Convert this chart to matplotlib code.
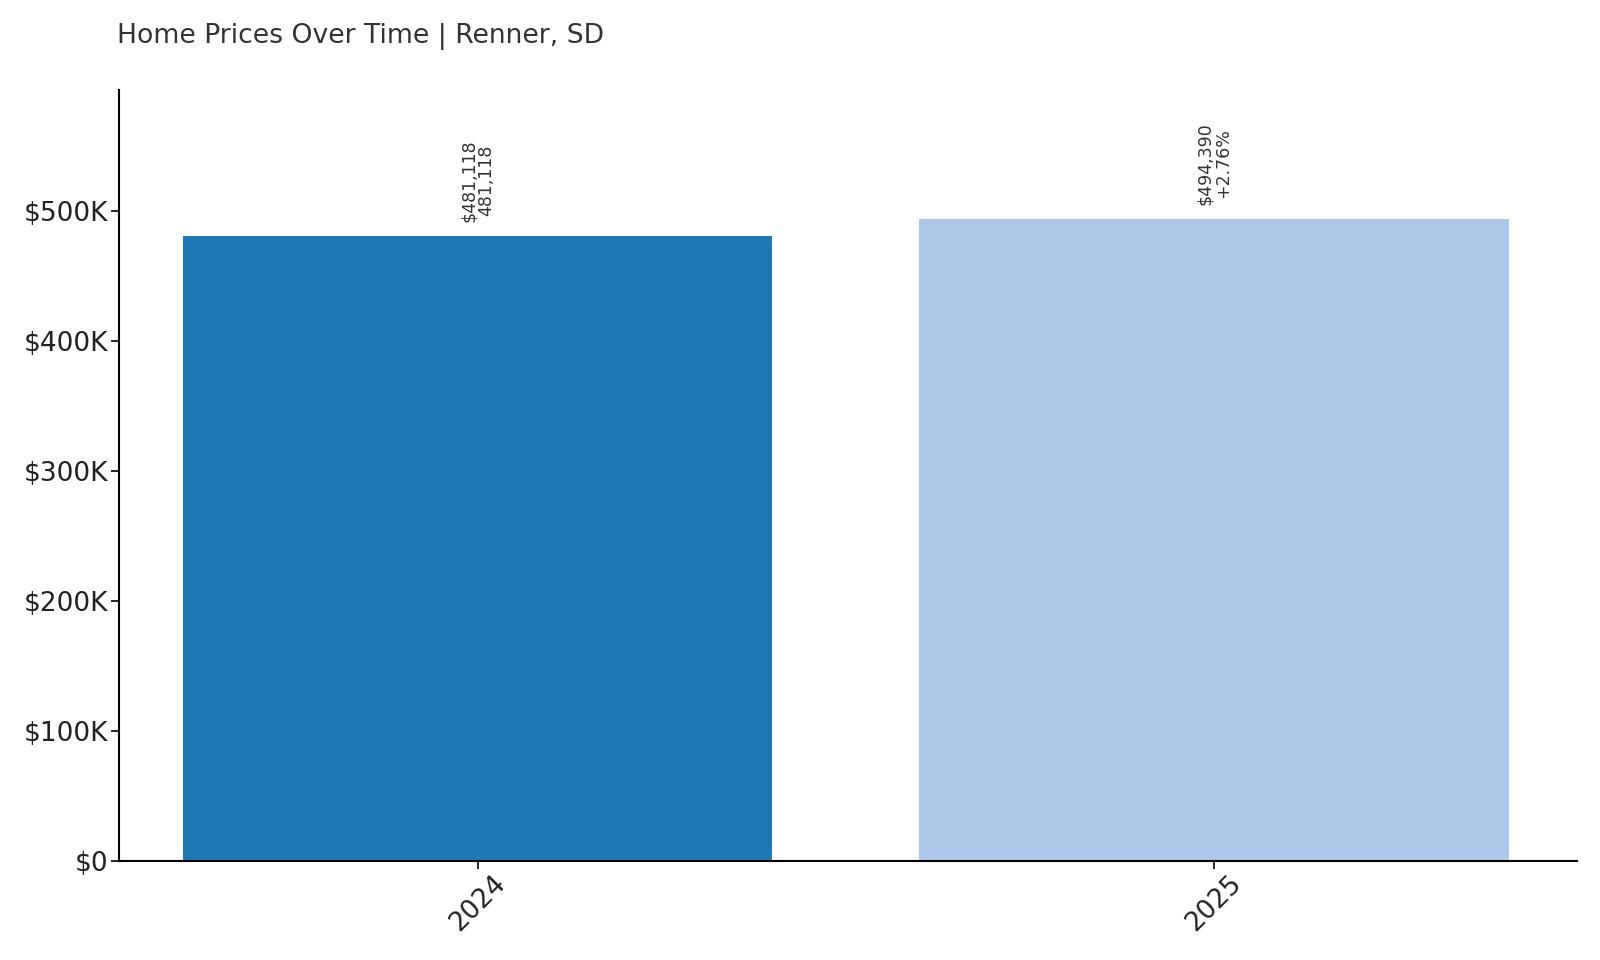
import matplotlib
matplotlib.use("Agg")
import matplotlib.pyplot as plt
from matplotlib.ticker import FuncFormatter

years = ["2024", "2025"]
values = [481118, 494390]
labels_top = ["$481,118", "$494,390"]
labels_bottom = ["481,118", "+2.76%"]
colors = ["#1f77b4", "#aec7e8"]
title = "Home Prices Over Time | Renner, SD"

fig = plt.figure(figsize=(16, 9.6), dpi=100)
ax = fig.add_axes([119/1600, 1 - 861/960, (1577-119)/1600, (861-90)/960])

x = list(range(len(years)))
bars = ax.bar(x, values, width=0.8, color=colors)
ax.set_xlim(-0.487, 1.493)
ax.set_ylim(0, max(values) * 1.2)

for xi, v, t1, t2 in zip(x, values, labels_top, labels_bottom):
    ax.annotate(f"{t1}\n{t2}", xy=(xi, v), xytext=(0, 10), textcoords="offset points",
                rotation=90, ha="center", va="bottom", multialignment="center",
                fontsize=12.5, color="#333333", linespacing=1.0)

ax.set_xticks(x)
ax.set_xticklabels(years, rotation=45, ha="center", fontsize=19, color="#222222")
ax.yaxis.set_major_formatter(FuncFormatter(lambda v, p: "$0" if v == 0 else f"${int(v/1000)}K"))
ax.set_yticks([0, 100000, 200000, 300000, 400000, 500000])
ax.tick_params(axis="y", labelsize=19, labelcolor="#222222", length=6, width=1.2, pad=1.5)
ax.tick_params(axis="x", length=6, width=1.2, pad=1)
for s in ["top", "right"]:
    ax.spines[s].set_visible(False)
for s in ["left", "bottom"]:
    ax.spines[s].set_linewidth(1.5)

fig.text(117/1600, 1 - 37/960, title, fontsize=19.2, color="#333333", ha="left", va="center")

fig.savefig("out.png", dpi=100)
